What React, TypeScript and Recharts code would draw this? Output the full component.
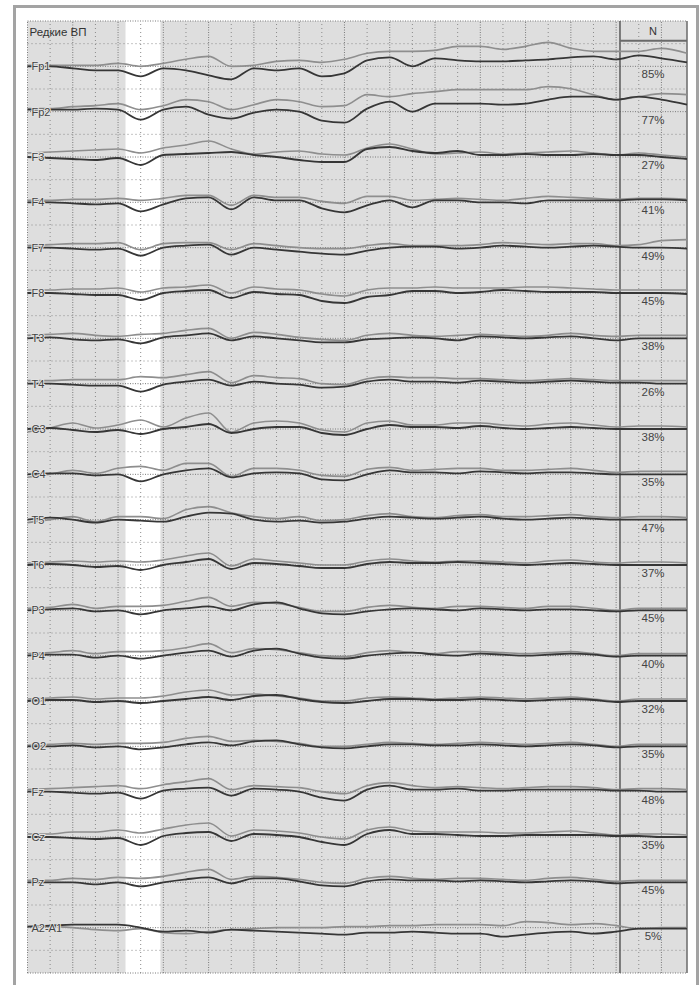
import React from 'react';
import { LineChart, Line, XAxis, YAxis, ReferenceArea, ReferenceLine } from 'recharts';

const CHANNELS = ['Fp1', 'Fp2', 'F3', 'F4', 'F7', 'F8', 'T3', 'T4', 'C3', 'C4', 'T5', 'T6', 'P3', 'P4', 'O1', 'O2', 'Fz', 'Cz', 'Pz', 'A2-A1'];
const PERCENTS = ['85%', '77%', '27%', '41%', '49%', '45%', '38%', '26%', '38%', '35%', '47%', '37%', '45%', '40%', '32%', '35%', '48%', '35%', '45%', '5%'];

// time axis in grid columns; last point sits on the right edge
const X_POS = [0, 1, 2, 3, 4, 5, 6, 7, 8, 9, 10, 11, 12, 13, 14, 15, 16, 17, 18, 19, 20, 21, 22, 23, 24, 25, 26, 27, 28, 29.13];

// deflections in µV (positive up), dark = rare, light = frequent
const FP1_DARK = [0, 0, -2, -4, -4, -10, -2, -4, -9, -13, -2, -4, -2, -10, -7, 6, 9, 0, 8, 6, 5, 5, 6, 7, 9, 10, 7, 11, 8, 4];
const FP1_LIGHT = [1, 1, 1, 1, 3, 0, 3, 7, 10, 0, 1, 5, 6, 4, 7, 13, 15, 15, 16, 20, 20, 17, 20, 24, 18, 15, 15, 15, 18, 13];
const FP2_DARK = [2, 2, 2, 3, 2, -8, 2, 5, -3, -7, -1, 2, 0, -9, -11, 3, 10, 0, 8, 8, 8, 7, 8, 12, 15, 15, 12, 15, 12, 7];
const FP2_LIGHT = [3, 3, 5, 6, 8, 2, 6, 12, 10, 2, 7, 12, 10, 5, 6, 17, 15, 18, 20, 22, 22, 22, 22, 25, 23, 17, 12, 15, 18, 17];
const F3_DARK = [0, -1, -2, -3, -1, -8, 2, 3, 4, 5, 2, 0, -3, -5, -5, 8, 10, 6, 4, 6, 2, 2, 3, 2, 2, 3, 2, 2, 0, -2];
const F3_LIGHT = [4, 5, 6, 7, 8, 4, 9, 12, 16, 8, 3, 5, 6, 3, 2, 9, 13, 8, 3, 4, 5, 3, 4, 5, 6, 4, 2, 4, 2, 0];
const F4_DARK = [0, 0, -1, -2, -1, -9, -2, 4, 5, -7, 5, 2, 2, -6, -10, -3, 2, -5, 2, 2, 0, 0, -1, 2, 2, 2, 2, 3, 3, 2];
const F4_LIGHT = [2, 2, 3, 3, 4, 2, 4, 7, 7, -3, 7, 5, 5, 1, -1, 6, 6, 2, 3, 4, 3, 2, 4, 6, 5, 4, 3, 4, 4, 3];
const F7_DARK = [0, 0, -1, -2, -1, -8, 0, 2, 3, -7, 0, -2, -4, -6, -7, -3, 0, 1, 1, -1, 0, 2, 1, 0, 1, 2, 1, 0, 0, -1];
const F7_LIGHT = [2, 3, 4, 4, 5, -2, 4, 5, 5, -2, 4, 2, 0, -1, -1, 2, 4, 2, 2, 2, 3, 5, 4, 3, 4, 4, 2, 3, 7, 8];
const F8_DARK = [0, 0, -1, -2, -2, -7, 0, 2, 3, -5, 1, -1, -2, -8, -10, -4, -2, 2, 2, 0, 1, 3, 2, 1, 1, 1, 0, 0, 0, -1];
const F8_LIGHT = [3, 3, 4, 4, 5, 1, 5, 6, 8, 0, 6, 4, 3, -1, -3, 3, 5, 5, 6, 5, 5, 5, 6, 6, 5, 4, 3, 3, 3, 3];
const T3_DARK = [0, 1, -1, -2, -1, -5, 1, 3, 5, -2, 2, 0, -2, -4, -4, -1, 0, 1, 0, -2, 2, 1, 0, 1, 2, 0, -2, 0, 0, 0];
const T3_LIGHT = [3, 4, 5, 3, 2, 4, 5, 8, 10, 0, 6, 4, 1, -1, -2, 3, 5, 3, 2, 3, 4, 3, 2, 3, 5, 3, 2, 3, 3, 3];
const T4_DARK = [0, 0, -1, -2, -2, -8, -1, 2, 4, -2, 2, 0, -1, -4, -3, 2, 4, 2, 2, 1, 3, 2, 1, 2, 3, 2, 1, 1, 0, 0];
const T4_LIGHT = [3, 3, 4, 4, 4, 7, 6, 9, 12, 1, 8, 6, 5, 0, -1, 5, 7, 6, 6, 5, 5, 4, 3, 4, 5, 4, 3, 3, 3, 3];
const C3_DARK = [0, 1, -1, -3, -1, -5, 0, 2, 5, -4, 0, 2, 2, -4, -6, 0, 4, 2, 2, 1, 3, 1, 0, 1, 2, 1, 0, 0, 0, 0];
const C3_LIGHT = [-3, 1, 6, 1, 4, 9, 2, 11, 16, -3, 6, 8, 6, -1, -3, 6, 8, 4, 4, 6, 6, 4, 3, 5, 6, 4, 2, 3, 3, 2];
const C4_DARK = [0, 1, 1, -1, 0, -7, 0, 4, 6, -3, 1, 2, 1, -5, -6, 0, 4, 2, 2, 1, 3, 2, 1, 2, 2, 1, 0, 0, 0, 0];
const C4_LIGHT = [-3, 0, 4, 1, 6, 8, 4, 11, 11, -2, 6, 6, 4, -1, -2, 5, 7, 4, 5, 6, 6, 4, 4, 5, 6, 4, 2, 3, 3, 3];
const T5_DARK = [0, 2, 0, -3, 0, -1, -2, 3, 7, 6, 0, -2, -1, -3, -2, 1, 3, 2, 1, 2, 3, 1, 0, 1, 2, 1, 0, 0, 0, 0];
const T5_LIGHT = [-3, 0, 3, -2, 3, 3, 1, 10, 13, 7, 3, 1, 3, -1, 0, 4, 6, 3, 2, 4, 5, 3, 3, 4, 5, 3, 2, 3, 3, 2];
const T6_DARK = [0, 1, 0, -2, -1, -5, 0, 3, 6, -4, 2, 1, -1, -3, -3, 1, 3, 2, 2, 3, 2, 1, 0, 1, 2, 1, 0, 0, 0, 0];
const T6_LIGHT = [2, 3, 4, 3, 4, 3, 5, 9, 12, -1, 6, 4, 2, 0, 0, 4, 6, 4, 3, 4, 4, 3, 2, 4, 5, 3, 2, 3, 3, 2];
const P3_DARK = [0, 1, 2, -1, 0, -4, 0, 2, 4, 0, 6, 8, 2, -3, -4, -1, 1, 2, 1, 0, 2, 1, 0, 1, 1, 0, -1, 0, 0, 0];
const P3_LIGHT = [2, 3, 6, 2, 4, 4, 5, 9, 13, 4, 8, 7, 3, -1, -1, 3, 5, 3, 2, 4, 4, 3, 2, 4, 4, 2, 0, 2, 2, 2];
const P4_DARK = [0, 1, 1, -2, 0, -3, 0, 3, 5, -1, 5, 7, 2, -2, -3, 0, 2, 3, 1, 0, 2, 1, 0, 1, 2, 1, -1, 0, 0, 0];
const P4_LIGHT = [2, 3, 5, 2, 4, 4, 5, 8, 12, 3, 7, 6, 3, 0, -1, 3, 5, 3, 2, 4, 4, 3, 2, 3, 4, 2, 0, 2, 2, 2];
const O1_DARK = [0, 1, 1, -1, 0, -2, 0, 2, 4, 1, 5, 6, 2, -1, -2, 0, 2, 2, 1, 1, 2, 1, 0, 1, 2, 1, -1, 0, 0, 0];
const O1_LIGHT = [2, 3, 4, 2, 3, 3, 5, 9, 11, 6, 7, 5, 3, 0, 0, 3, 4, 3, 2, 3, 4, 3, 2, 3, 4, 2, 0, 2, 2, 2];
const O2_DARK = [0, 0, 1, -1, 0, -3, -1, 2, 4, 1, 5, 6, 2, -1, -2, 0, 2, 2, 1, 1, 2, 1, 0, 1, 2, 1, -1, 0, 0, 0];
const O2_LIGHT = [1, 2, 3, 2, 3, 3, 4, 8, 10, 5, 6, 5, 3, 0, 0, 2, 4, 3, 2, 3, 4, 3, 2, 3, 4, 2, 0, 2, 2, 2];
const FZ_DARK = [0, 0, -1, -2, -1, -7, 1, 3, 4, -4, 3, 2, 0, -6, -9, 2, 6, 2, 2, 3, 1, 1, 2, 2, 2, 2, 1, 1, 0, 0];
const FZ_LIGHT = [2, 3, 4, 5, 6, 3, 7, 10, 13, 2, 6, 5, 4, 0, -2, 6, 9, 6, 4, 5, 4, 3, 4, 5, 5, 4, 2, 3, 3, 2];
const CZ_DARK = [0, 0, -1, -2, -1, -8, 1, 4, 5, -4, 3, 2, 0, -5, -8, 3, 7, 3, 3, 2, 1, 1, 2, 2, 2, 2, 1, 1, 0, 0];
const CZ_LIGHT = [3, 3, 5, 5, 7, 4, 8, 12, 14, 1, 7, 6, 4, 0, -2, 7, 10, 6, 5, 5, 5, 4, 4, 5, 6, 4, 2, 3, 3, 2];
const PZ_DARK = [0, 0, 0, -2, 0, -4, 0, 3, 5, -1, 4, 4, 1, -3, -4, 1, 3, 2, 2, 1, 2, 1, 0, 1, 2, 1, -1, 0, 0, 0];
const PZ_LIGHT = [2, 2, 4, 3, 5, 4, 6, 10, 13, 3, 6, 5, 3, 0, -1, 4, 6, 4, 3, 4, 4, 3, 2, 4, 5, 3, 1, 2, 2, 2];
const A2A1_DARK = [1, 2, 3, 3, 3, 0, -4, -3, -5, -2, -3, -4, -5, -6, -7, -5, -5, -4, -5, -6, -6, -9, -7, -5, -4, -6, -4, -1, -1, -1];
const A2A1_LIGHT = [1, 1, 0, -2, -3, -1, -5, -6, -4, -2, -1, 0, 0, 0, 1, 1, 2, 2, 3, 3, 3, 2, 6, 5, 3, 4, 2, -1, 0, 0];

const SERIES = [
  [FP1_DARK, FP1_LIGHT], [FP2_DARK, FP2_LIGHT], [F3_DARK, F3_LIGHT], [F4_DARK, F4_LIGHT],
  [F7_DARK, F7_LIGHT], [F8_DARK, F8_LIGHT], [T3_DARK, T3_LIGHT], [T4_DARK, T4_LIGHT],
  [C3_DARK, C3_LIGHT], [C4_DARK, C4_LIGHT], [T5_DARK, T5_LIGHT], [T6_DARK, T6_LIGHT],
  [P3_DARK, P3_LIGHT], [P4_DARK, P4_LIGHT], [O1_DARK, O1_LIGHT], [O2_DARK, O2_LIGHT],
  [FZ_DARK, FZ_LIGHT], [CZ_DARK, CZ_LIGHT], [PZ_DARK, PZ_LIGHT], [A2A1_DARK, A2A1_LIGHT],
];

const ROW = 22.67; // µV per grid row
const ROWS = 42;
const X_MAX = 29.13;
const N_SEP = 26.17;
const STRIPE_FROM = 4.33;
const STRIPE_TO = 5.87;
const PLOT_LEFT = 27.5;
const N_CENTER = 653;
const FONT = '"Liberation Sans", Arial, sans-serif';

const baseOf = (i: number) => (ROWS - 2 - 2 * i) * ROW;
const HEADER_Y = (ROWS - 0.5) * ROW;

const chartData = X_POS.map((x, k) => {
  const row: any = { x };
  SERIES.forEach(([dark, light], i) => {
    row[`d${i}`] = baseOf(i) + dark[k];
    row[`l${i}`] = baseOf(i) + light[k];
  });
  return row;
});

const TICKS = [HEADER_Y, ...CHANNELS.map((_, i) => baseOf(i))];
const channelAt = (v: number) => CHANNELS.findIndex((_, i) => Math.abs(baseOf(i) - v) < 1);

// channel name on the left, N-percentage in the right column
const RowTick = ({ y, payload }: any) => {
  if (Math.abs(payload.value - HEADER_Y) < 1) {
    return (
      <g>
        <text x={PLOT_LEFT + 2} y={y + 4} fontSize={11.5} fontFamily={FONT} fill="#333">Редкие ВП</text>
        <text x={N_CENTER} y={y + 3} fontSize={11} fontFamily={FONT} fill="#333" textAnchor="middle">N</text>
      </g>
    );
  }
  const i = channelAt(payload.value);
  return (
    <g>
      <text x={PLOT_LEFT + 4} y={y + 4} fontSize={11} fontFamily={FONT} fill="#444"
        stroke="#e2e2e2" strokeWidth={2} paintOrder="stroke">{CHANNELS[i]}</text>
      <text x={N_CENTER} y={y + 12} fontSize={11.5} fontFamily={FONT} fill="#444" textAnchor="middle">{PERCENTS[i]}</text>
    </g>
  );
};

const COLS = Array.from({ length: 29 }, (_, k) => k);
const ROW_LINES = Array.from({ length: ROWS + 1 }, (_, r) => r);

export default function App() {
  return (
    <div style={{ position: 'absolute', left: 0, top: 0, width: 699, height: 985, background: '#fff', overflow: 'hidden' }}>
      <div style={{ position: 'absolute', left: 13, top: 5, width: 680, height: 990, borderTop: '3px solid #a3a3a3', borderLeft: '3px solid #a3a3a3', borderRight: '3px solid #a3a3a3' }} />
      <div style={{ position: 'absolute', left: 0, top: 0 }}>
        <LineChart width={699} height={985} data={chartData} margin={{ top: 21, right: 12, bottom: 12, left: PLOT_LEFT }}>
          <XAxis dataKey="x" type="number" domain={[0, X_MAX]} hide />
          <YAxis yAxisId="l" type="number" domain={[0, ROWS * ROW]} ticks={TICKS} interval={0} mirror
            axisLine={false} tickLine={false} tick={<RowTick />} />
          <ReferenceArea yAxisId="l" x1={0} x2={X_MAX} y1={0} y2={ROWS * ROW} fill="#dedede" fillOpacity={1} stroke="none" />
          <ReferenceArea yAxisId="l" x1={STRIPE_FROM} x2={STRIPE_TO} y1={0} y2={ROWS * ROW} fill="#ffffff" fillOpacity={1} stroke="none" />
          {COLS.map((k) => (
            <ReferenceLine key={`v${k}`} yAxisId="l" x={k} stroke={k % 2 === 0 ? '#7a7a7a' : '#8a8a8a'}
              strokeDasharray={k % 2 === 0 ? '1 1.5' : '1 3'} strokeWidth={1} />
          ))}
          {ROW_LINES.map((r) => (
            <ReferenceLine key={`h${r}`} yAxisId="l" y={r * ROW} stroke={r % 2 === 0 ? '#7a7a7a' : '#8a8a8a'}
              strokeDasharray={r % 2 === 0 ? '1 1.5' : '1 3'} strokeWidth={1} />
          ))}
          <ReferenceLine yAxisId="l" x={N_SEP} stroke="#5a5a5a" strokeWidth={1.5} />
          <ReferenceLine yAxisId="l" x={X_MAX} stroke="#6a6a6a" strokeWidth={1.5} />
          <ReferenceLine yAxisId="l" stroke="#6a6a6a" strokeWidth={2}
            segment={[{ x: N_SEP, y: (ROWS - 0.87) * ROW }, { x: X_MAX, y: (ROWS - 0.87) * ROW }]} />
          {SERIES.map((_, i) => (
            <Line key={`l${i}`} yAxisId="l" dataKey={`l${i}`} type="monotone" stroke="#8e8e8e" strokeWidth={1.6}
              dot={false} isAnimationActive={false} />
          ))}
          {SERIES.map((_, i) => (
            <Line key={`d${i}`} yAxisId="l" dataKey={`d${i}`} type="monotone" stroke="#363636" strokeWidth={1.8}
              dot={false} isAnimationActive={false} />
          ))}
        </LineChart>
      </div>
    </div>
  );
}
